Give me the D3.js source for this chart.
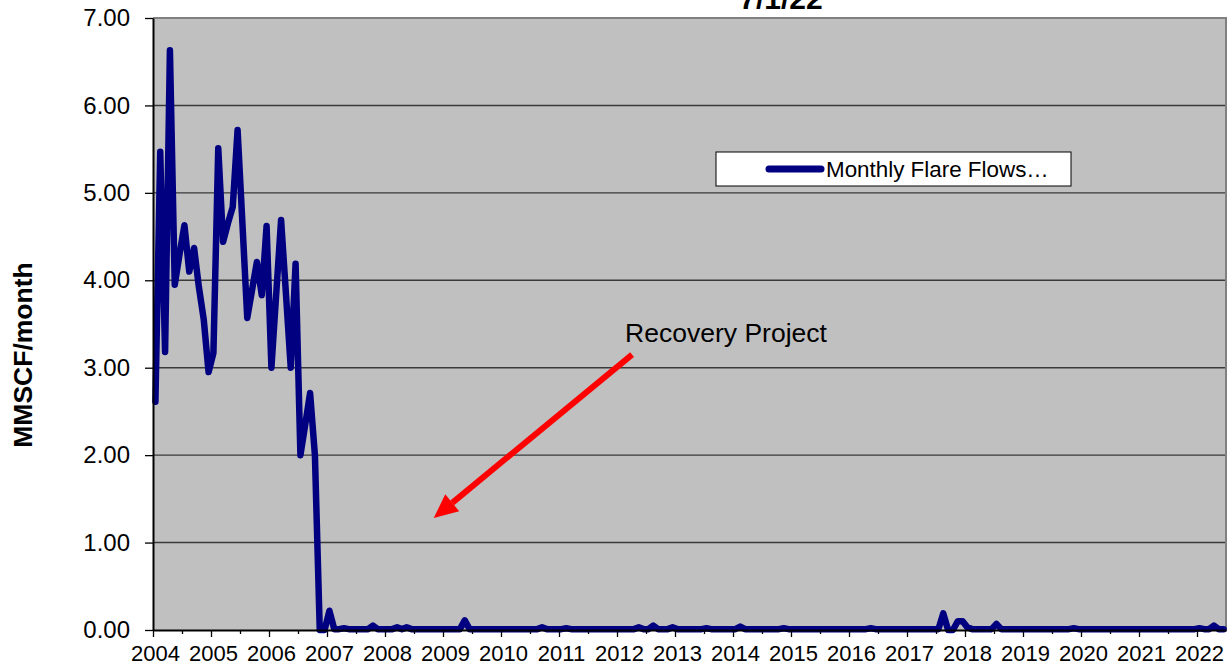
<!DOCTYPE html>
<html>
<head>
<meta charset="utf-8">
<script src="https://cdn.jsdelivr.net/npm/d3@7"></script>
<style>
    body { margin: 0; background: #fff; }
    svg { display: block; font-family: "Liberation Sans", Arial, sans-serif; }
</style>
</head>
<body>
<svg id="chart" width="1230" height="667"></svg>
<script>
// monthly flare flows, MMSCF/month, Jan 2004 .. Jun 2022
var startYear = 2004;
var monthlyFlows = [
    2.61, 5.47, 3.18, 6.63, 3.95, 4.30, 4.63, 4.10, 4.37, 3.92, 3.55, 2.95, // 2004
    3.17, 5.51, 4.44, 4.65, 4.84, 5.72, 4.65, 3.57, 3.89, 4.21, 3.83, 4.62, // 2005
    3.00, 3.85, 4.69, 3.85, 3.00, 4.19, 2.00, 2.35, 2.71, 2.00, 0.00, 0.00, // 2006
    0.22, 0.01, 0.01, 0.02, 0.01, 0.01, 0.01, 0.01, 0.01, 0.05, 0.01, 0.01, // 2007
    0.01, 0.01, 0.03, 0.01, 0.03, 0.01, 0.01, 0.01, 0.01, 0.01, 0.01, 0.01, // 2008
    0.01, 0.01, 0.01, 0.01, 0.11, 0.01, 0.01, 0.01, 0.01, 0.01, 0.01, 0.01, // 2009
    0.01, 0.01, 0.01, 0.01, 0.01, 0.01, 0.01, 0.01, 0.03, 0.01, 0.01, 0.01, // 2010
    0.01, 0.02, 0.01, 0.01, 0.01, 0.01, 0.01, 0.01, 0.01, 0.01, 0.01, 0.01, // 2011
    0.01, 0.01, 0.01, 0.01, 0.03, 0.01, 0.01, 0.05, 0.01, 0.01, 0.01, 0.03, // 2012
    0.01, 0.01, 0.01, 0.01, 0.01, 0.01, 0.02, 0.01, 0.01, 0.01, 0.01, 0.01, // 2013
    0.01, 0.04, 0.01, 0.01, 0.01, 0.01, 0.01, 0.01, 0.01, 0.01, 0.02, 0.01, // 2014
    0.01, 0.01, 0.01, 0.01, 0.01, 0.01, 0.01, 0.01, 0.01, 0.01, 0.01, 0.01, // 2015
    0.01, 0.01, 0.01, 0.01, 0.02, 0.01, 0.01, 0.01, 0.01, 0.01, 0.01, 0.01, // 2016
    0.01, 0.01, 0.01, 0.01, 0.01, 0.01, 0.01, 0.19, 0.00, 0.00, 0.10, 0.10, // 2017
    0.03, 0.01, 0.01, 0.01, 0.01, 0.01, 0.07, 0.01, 0.01, 0.01, 0.01, 0.01, // 2018
    0.01, 0.01, 0.01, 0.01, 0.01, 0.01, 0.01, 0.01, 0.01, 0.01, 0.02, 0.01, // 2019
    0.01, 0.01, 0.01, 0.01, 0.01, 0.01, 0.01, 0.01, 0.01, 0.01, 0.01, 0.01, // 2020
    0.01, 0.01, 0.01, 0.01, 0.01, 0.01, 0.01, 0.01, 0.01, 0.01, 0.01, 0.01, // 2021
    0.02, 0.01, 0.01, 0.05, 0.01, 0.01                                      // 2022
];
var yearTicks = d3.range(2004, 2023);
var yTicks = [0, 1, 2, 3, 4, 5, 6, 7];
var titleText = "7/1/22";
var yTitle = "MMSCF/month";
var legendText = "Monthly Flare Flows\u2026";
// annotation, in data units: [year, value]
var arrowTail = [2012.26, 3.15];
var arrowTip = [2008.84, 1.28];
var noteText = "Recovery Project";
var notePos = [2012.14, 3.29];

var svg = d3.select("#chart");
var plotLeft = 153, plotRight = 1226, plotTop = 18, plotBottom = 630;

var x = d3.scaleLinear().domain([2004, 2022.5]).range([plotLeft, plotRight]);
var y = d3.scaleLinear().domain([0, 7]).range([plotBottom, plotTop]);

// plot background
svg.append("rect")
    .attr("x", plotLeft).attr("y", plotTop)
    .attr("width", plotRight - plotLeft).attr("height", plotBottom - plotTop)
    .attr("fill", "#c0c0c0");

// gridlines
svg.append("g").selectAll("line")
    .data(yTicks.filter(function (d) { return d > 0 && d < 7; }))
    .enter().append("line")
    .attr("x1", plotLeft).attr("x2", plotRight)
    .attr("y1", function (d) { return y(d); })
    .attr("y2", function (d) { return y(d); })
    .attr("stroke", "#3a3a3a")
    .attr("stroke-width", 1.4);

// top and right border
svg.append("path")
    .attr("d", "M" + plotLeft + "," + plotTop + "H" + plotRight + "V" + plotBottom)
    .attr("fill", "none")
    .attr("stroke", "#808080")
    .attr("stroke-width", 2);

// data line
var line = d3.line()
    .x(function (d, i) { return x(startYear + (i + 0.5) / 12); })
    .y(function (d) { return y(d); });

svg.append("path")
    .datum(monthlyFlows)
    .attr("d", line)
    .attr("fill", "none")
    .attr("stroke", "#000080")
    .attr("stroke-width", 6.5)
    .attr("stroke-linejoin", "round")
    .attr("stroke-linecap", "round");

//y axis
var yAxis = svg.append("g")
    .attr("transform", "translate(" + plotLeft + ",0)")
    .call(d3.axisLeft(y).tickValues(yTicks).tickFormat(d3.format(".2f")).tickSize(8).tickPadding(15).tickSizeOuter(0));
yAxis.select(".domain").attr("stroke", "#000").attr("stroke-width", 2);
yAxis.selectAll(".tick line").attr("stroke", "#000").attr("stroke-width", 1.3);
yAxis.selectAll(".tick text")
    .attr("font-size", 24)
    .attr("fill", "#000")
    .attr("font-family", "Liberation Sans, Arial, sans-serif");

//x axis, minor ticks at half years
var xMinor = svg.append("g")
    .attr("transform", "translate(0," + plotBottom + ")")
    .call(d3.axisBottom(x).tickValues(yearTicks.map(function (d) { return d + 0.5; }).filter(function (d) { return d < 2022.5; }))
        .tickSize(4).tickFormat(""));
xMinor.select(".domain").remove();
xMinor.selectAll(".tick line").attr("stroke", "#000").attr("stroke-width", 1.3);

var xAxis = svg.append("g")
    .attr("transform", "translate(0," + plotBottom + ")")
    .call(d3.axisBottom(x).tickValues(yearTicks).tickFormat(d3.format("d")).tickSize(7).tickPadding(8).tickSizeOuter(0));
xAxis.select(".domain").attr("stroke", "#000").attr("stroke-width", 2);
xAxis.selectAll(".tick line").attr("stroke", "#000").attr("stroke-width", 1.3);
xAxis.selectAll(".tick text")
    .attr("font-size", 22)
    .attr("fill", "#000")
    .attr("dx", 2)
    .attr("font-family", "Liberation Sans, Arial, sans-serif");

// y title
svg.append("text")
    .attr("transform", "translate(32,355) rotate(-90)")
    .attr("text-anchor", "middle")
    .attr("font-size", 26.5)
    .attr("font-weight", "bold")
    .text(yTitle);

// title, mostly cut off at the top
svg.append("text")
    .attr("x", 781).attr("y", 9)
    .attr("text-anchor", "middle")
    .attr("font-size", 30)
    .attr("font-weight", "bold")
    .text(titleText);

// legend
var legend = svg.append("g").attr("transform", "translate(716,152)");
legend.append("rect")
    .attr("width", 355).attr("height", 34)
    .attr("fill", "#fff")
    .attr("stroke", "#000")
    .attr("stroke-width", 1);
legend.append("line")
    .attr("x1", 53).attr("x2", 105)
    .attr("y1", 17).attr("y2", 17)
    .attr("stroke", "#000080")
    .attr("stroke-width", 7)
    .attr("stroke-linecap", "round");
legend.append("text")
    .attr("x", 110).attr("y", 25)
    .attr("font-size", 22.4)
    .text(legendText);

// annotation arrow
var tx = x(arrowTip[0]), ty = y(arrowTip[1]);
var sx = x(arrowTail[0]), sy = y(arrowTail[1]);
var ang = Math.atan2(ty - sy, tx - sx);
var headLen = 24, headW = 11;
var bx = tx - headLen * Math.cos(ang), by = ty - headLen * Math.sin(ang);

svg.append("line")
    .attr("x1", sx).attr("y1", sy)
    .attr("x2", bx).attr("y2", by)
    .attr("stroke", "#ff0000")
    .attr("stroke-width", 6);
svg.append("path")
    .attr("d", "M" + tx + "," + ty +
        "L" + (bx + headW * Math.sin(ang)) + "," + (by - headW * Math.cos(ang)) +
        "L" + (bx - headW * Math.sin(ang)) + "," + (by + headW * Math.cos(ang)) + "Z")
    .attr("fill", "#ff0000");

svg.append("text")
    .attr("x", x(notePos[0])).attr("y", y(notePos[1]))
    .attr("font-size", 26.5)
    .text(noteText);
</script>
</body>
</html>
